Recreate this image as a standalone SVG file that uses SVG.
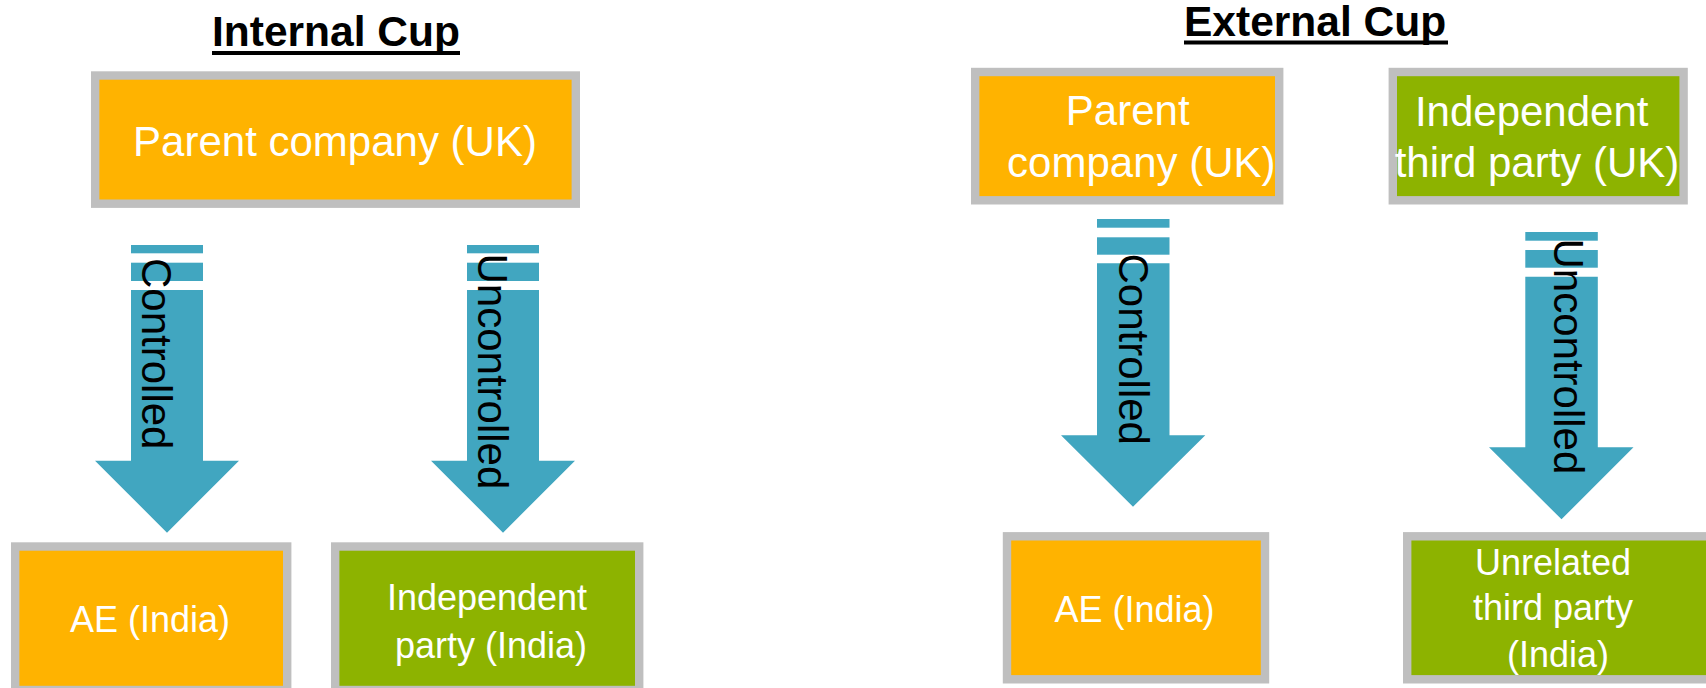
<svg xmlns="http://www.w3.org/2000/svg" width="1706" height="688" viewBox="0 0 1706 688">
  <style>
    .box { stroke: #BFBFBF; stroke-width: 8.4; }
    .orange { fill: #FFB300; }
    .green { fill: #8DB300; }
    .lbl { font-family: "Liberation Sans", Arial, sans-serif; fill: #FFFFFF; text-anchor: middle; }
    .big { font-size: 42px; }
    .small { font-size: 36px; }
    .title { font-family: "Liberation Sans", Arial, sans-serif; font-weight: bold; font-size: 42.5px; fill: #000000; }
    .arrow { fill: #41A6C0; }
    .alabel { font-family: "Liberation Sans", Arial, sans-serif; font-size: 42px; fill: #000000; }
  </style>
  <rect width="1706" height="688" fill="#FFFFFF"/>

  <g id="titles">
    <text class="title" x="212" y="46">Internal Cup</text>
    <rect x="212" y="51" width="248" height="4" fill="#000000"/>
    <text class="title" x="1184" y="36">External Cup</text>
    <rect x="1184" y="40.5" width="264" height="4" fill="#000000"/>
  </g>

  <g id="connectors">
    <g id="arrow-int-controlled">
      <rect class="arrow" x="131" y="245" width="72" height="8.3"/>
      <rect class="arrow" x="131" y="262.7" width="72" height="18.3"/>
      <polygon class="arrow" points="131,290 203,290 203,460.7 239,460.7 167,532.7 95,460.7 131,460.7"/>
      <text class="alabel" transform="translate(142,258) rotate(90)">Controlled</text>
    </g>
    <g id="arrow-int-uncontrolled">
      <rect class="arrow" x="467" y="245" width="72" height="8.3"/>
      <rect class="arrow" x="467" y="262.7" width="72" height="18.3"/>
      <polygon class="arrow" points="467,290 539,290 539,460.7 575,460.7 503,532.7 431,460.7 467,460.7"/>
      <text class="alabel" transform="translate(478,253.5) rotate(90)">Uncontrolled</text>
    </g>
    <g id="arrow-ext-controlled">
      <rect class="arrow" x="1097" y="219" width="72.5" height="8.7"/>
      <rect class="arrow" x="1097" y="237.3" width="72.5" height="17.4"/>
      <polygon class="arrow" points="1097,263.3 1169.5,263.3 1169.5,435.3 1205.3,435.3 1133,506.7 1061,435.3 1097,435.3"/>
      <text class="alabel" transform="translate(1119,253.5) rotate(90)">Controlled</text>
    </g>
    <g id="arrow-ext-uncontrolled">
      <rect class="arrow" x="1525.3" y="232" width="72.5" height="8.7"/>
      <rect class="arrow" x="1525.3" y="250" width="72.5" height="17.7"/>
      <polygon class="arrow" points="1525.3,276.7 1597.8,276.7 1597.8,447.3 1633.5,447.3 1561.5,519.3 1489,447.3 1525.3,447.3"/>
      <text class="alabel" transform="translate(1553.5,238.5) rotate(90)">Uncontrolled</text>
    </g>
  </g>

  <g id="int-parent">
    <rect class="box orange" x="95.2" y="75.5" width="480.6" height="128.2"/>
    <text class="lbl big" x="335" y="156">Parent company (UK)</text>
  </g>

  <g id="int-ae">
    <rect class="box orange" x="15.2" y="546.5" width="272" height="143.5"/>
    <text class="lbl small" x="150" y="631.7">AE (India)</text>
  </g>

  <g id="int-independent">
    <rect class="box green" x="335.2" y="546.5" width="304" height="143.5"/>
    <text class="lbl small" x="487" y="610">Independent</text>
    <text class="lbl small" x="491" y="658.3">party (India)</text>
  </g>

  <g id="ext-parent">
    <rect class="box orange" x="975.2" y="72" width="304" height="128.3"/>
    <text class="lbl big" x="1127.7" y="125">Parent</text>
    <text class="lbl big" x="1141.3" y="176.5">company (UK)</text>
  </g>

  <g id="ext-independent-uk">
    <rect class="box green" x="1392.8" y="72" width="290.8" height="128.3"/>
    <text class="lbl big" x="1531.7" y="125.5">Independent</text>
    <text class="lbl big" x="1537" y="176.5">third party (UK)</text>
  </g>

  <g id="ext-ae">
    <rect class="box orange" x="1007" y="536.3" width="258" height="143"/>
    <text class="lbl small" x="1134.5" y="621.7">AE (India)</text>
  </g>

  <g id="ext-unrelated">
    <rect class="box green" x="1407.2" y="536.3" width="310" height="143"/>
    <text class="lbl small" x="1553" y="575">Unrelated</text>
    <text class="lbl small" x="1553" y="619.5">third party</text>
    <text class="lbl small" x="1558" y="666.7">(India)</text>
  </g>
</svg>
